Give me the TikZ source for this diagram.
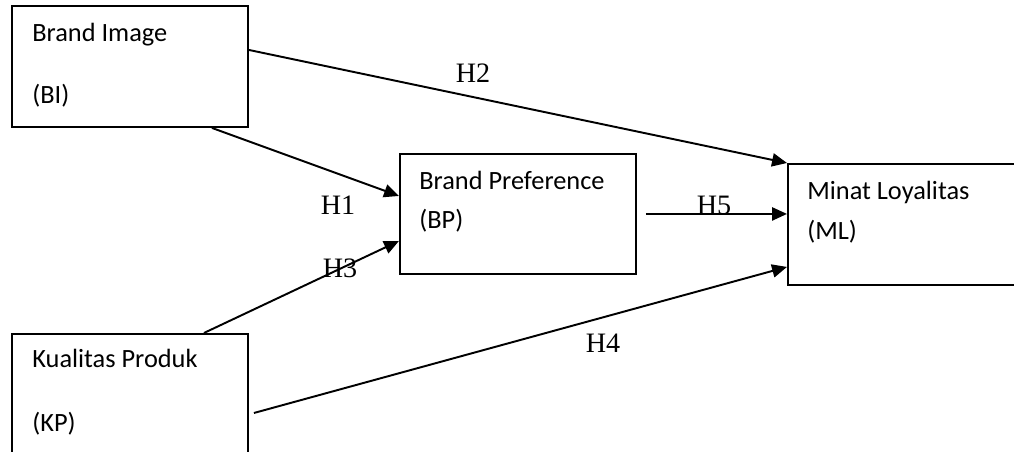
\documentclass[tikz,border=0pt]{standalone}
\usepackage{fontspec}
\setmainfont{Liberation Serif}
\newfontfamily\boxfont{Carlito}
\usetikzlibrary{arrows.meta}

\begin{document}
\begin{tikzpicture}[x=1cm,y=1cm,
    var/.style={draw, line width=1.1pt, inner sep=0pt, anchor=north west},
    vtxt/.style={anchor=base west, inner sep=0pt, font=\boxfont\fontsize{15}{18}\selectfont},
    hyp/.style={anchor=base, inner sep=0pt, font=\fontsize{16}{19}\selectfont},
    link/.style={line width=1.1pt, -{Triangle[length=8.5pt, width=7.5pt]}}]

  % page frame; ML and KP are cut by it, as in the original
  \path[use as bounding box, clip] (0,0) rectangle (20.28,9.04);

  % -- the four variables --
  \node[var, minimum width=4.71cm, minimum height=2.42cm] (bi) at (0.23,8.94) {};
  \node[var, minimum width=4.72cm, minimum height=2.40cm] (bp) at (7.98,5.98) {};
  \node[var, minimum width=6.00cm, minimum height=2.42cm] (ml) at (15.74,5.78) {};
  \node[var, minimum width=4.71cm, minimum height=2.80cm] (kp) at (0.23,2.38) {};

  % -- box texts: name on top, short code lower down --
  \node[vtxt] (bi1) at ([shift={(0.41,-0.74)}]bi.north west) {Brand Image};
  \node[vtxt] (bi2) at ([shift={(0.41,-1.98)}]bi.north west) {(BI)};
  \node[vtxt] (bp1) at ([shift={(0.40,-0.74)}]bp.north west) {Brand Preference};
  \node[vtxt] (bp2) at ([shift={(0.40,-1.52)}]bp.north west) {(BP)};
  \node[vtxt] (ml1) at ([shift={(0.40,-0.74)}]ml.north west) {Minat Loyalitas};
  \node[vtxt] (ml2) at ([shift={(0.40,-1.54)}]ml.north west) {(ML)};
  \node[vtxt] (kp1) at ([shift={(0.41,-0.70)}]kp.north west) {Kualitas Produk};
  \node[vtxt] (kp2) at ([shift={(0.41,-1.98)}]kp.north west) {(KP)};

  % -- paths between variables --
  \draw[link] ([xshift=-0.74cm]bi.south east) -- ([yshift=0.36cm]bp.west);
  \draw[link] ([yshift=0.33cm]bi.east) -- (ml.north west);
  \draw[link] ([xshift=-0.90cm]kp.north east) -- ([yshift=-0.54cm]bp.west);
  \draw[link] ([shift={(0.10,-1.60)}]kp.north east) -- ([yshift=0.38cm]ml.south west);
  \draw[link] ([xshift=0.18cm]bp.east) -- (bp.east -| ml.west);

  % -- hypothesis labels. H3 and H5 sit right on their lines in the original.
  \foreach \x/\y/\n in {6.76/4.74/1, 9.46/7.38/2, 6.80/3.48/3,
                        12.06/1.98/4, 14.28/4.74/5}
    \node[hyp] (h\n) at (\x,\y) {H\n};
\end{tikzpicture}
\end{document}
